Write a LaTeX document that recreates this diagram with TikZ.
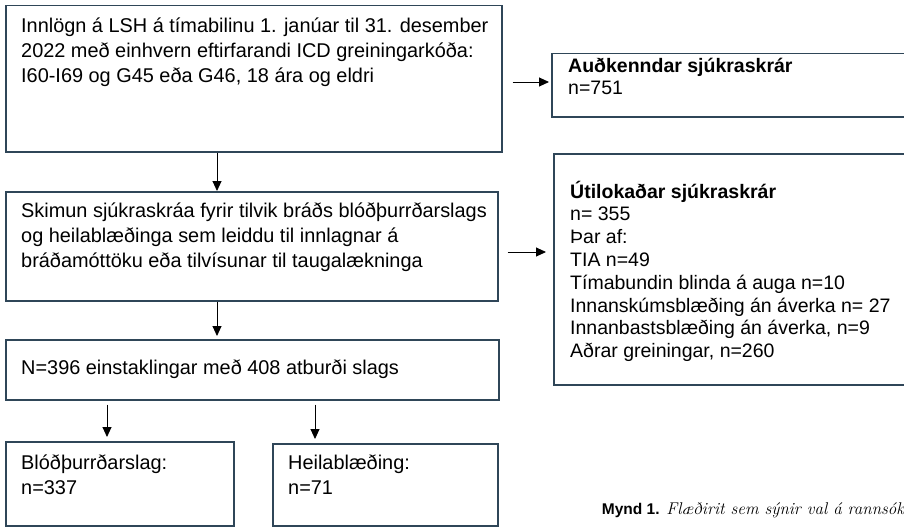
\documentclass[tikz,border=0pt]{standalone}
\usepackage{fontspec}
\usetikzlibrary{arrows.meta}
\newfontfamily\arial{Liberation Sans}
\definecolor{rammi}{HTML}{2F4658}

\tikzset{
  kassi/.style={draw=rammi, line width=1.5pt, anchor=north west, inner sep=0pt},
  texti/.style={anchor=base west, inner sep=0pt, font=\arial\fontsize{19.9}{25}\selectfont},
  textih/.style={texti, font=\arial\fontsize{19.5}{22.8}\selectfont},
  pila/.style={-{Triangle[length=10pt,width=9pt]}, line width=0.9pt}
}
\newcommand{\linur}[1]{\parbox[t]{600pt}{\raggedright #1}}

\begin{document}
\begin{tikzpicture}[x=1pt, y=-1pt]
\useasboundingbox (0,0) rectangle (904,527);
\clip (0,0) rectangle (904,527);

%kassar vinstra megin
\node[kassi, minimum width=496pt, minimum height=146pt] (innlogn) at (5,5) {};
\node[kassi, minimum width=492pt, minimum height=109pt] (skimun) at (5,191) {};
\node[kassi, minimum width=493pt, minimum height=60pt] (hopur) at (5,339) {};
\node[kassi, minimum width=228pt, minimum height=84pt] (blod) at (5,441) {};
\node[kassi, minimum width=225pt, minimum height=82pt] (heila) at (272,443) {};

%kassar haegra megin
\node[kassi, minimum width=369pt, minimum height=63pt] (audk) at (551,53) {};
\node[kassi, minimum width=367pt, minimum height=231pt] (util) at (553,153) {};

%textar
\node[texti] (innlogn-t) at (21,33) {\linur{Innlögn á LSH á tímabilinu 1. janúar til 31. desember\\
  2022 með einhvern eftirfarandi ICD greiningarkóða:\\
  I60-I69 og G45 eða G46, 18 ára og eldri}};
\node[texti] (skimun-t) at (21,217) {\linur{Skimun sjúkraskráa fyrir tilvik bráðs blóðþurrðarslags\\
  og heilablæðinga sem leiddu til innlagnar á\\
  bráðamóttöku eða tilvísunar til taugalækninga}};
\node[texti] (hopur-t) at (21,374) {N=396 einstaklingar með 408 atburði slags};
\node[texti] (blod-t) at (21,469) {\linur{Blóðþurrðarslag:\\ n=337}};
\node[texti] (heila-t) at (288,469) {\linur{Heilablæðing:\\ n=71}};
\node[textih] (audk-t) at (568,72) {\linur{\textbf{Auðkenndar sjúkraskrár}\\ n=751}};
\node[textih] (util-t) at (570,198) {\linur{\textbf{Útilokaðar sjúkraskrár}\\
  n= 355\\
  Þar af:\\
  TIA n=49\\
  Tímabundin blinda á auga n=10\\
  Innanskúmsblæðing án áverka n= 27\\
  Innanbastsblæðing án áverka, n=9\\
  Aðrar greiningar, n=260}};

%orvar
\coordinate (a1) at (217,0);
\coordinate (a2) at (107,0);
\coordinate (a3) at (315,0);
\coordinate (h1) at (0,82);
\coordinate (h2) at (0,252);
\draw[pila] (a1 |- innlogn.south) -- (a1 |- skimun.north);
\draw[pila, shorten >=3pt] (a1 |- skimun.south) -- (a1 |- hopur.north);
\draw[pila, shorten <=4pt, shorten >=4pt] (a2 |- hopur.south) -- (a2 |- blod.north);
\draw[pila, shorten <=4pt, shorten >=4pt] (a3 |- hopur.south) -- (a3 |- heila.north);
\draw[pila, shorten <=10pt, shorten >=2pt] (innlogn.east |- h1) -- (audk.west |- h1);
\draw[pila, shorten <=9pt, shorten >=7pt] (skimun.east |- h2) -- (util.west |- h2);

%myndatexti
\node[anchor=base east, inner sep=0pt, font=\fontsize{17}{20}\selectfont] (mynd) at (905,514)
  {{\arial\bfseries\fontsize{15.5}{20}\selectfont Mynd 1.} \textit{Flæðirit sem sýnir val á rannsók}};
\end{tikzpicture}
\end{document}
